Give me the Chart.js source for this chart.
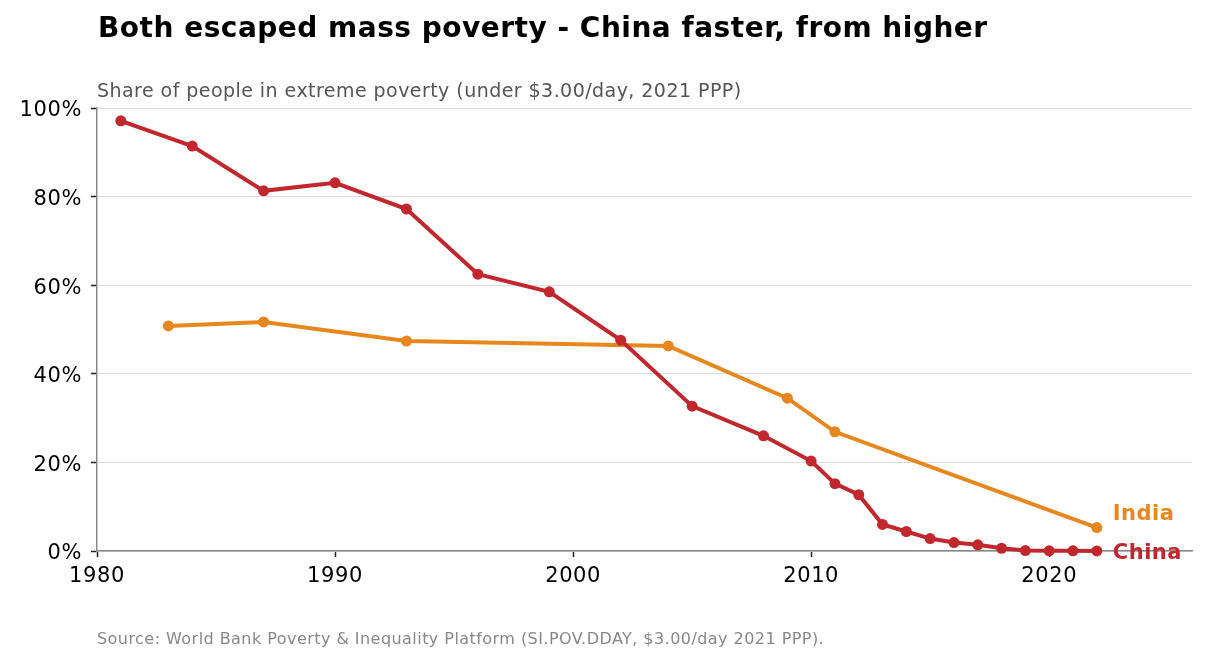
<!DOCTYPE html>
<html>
<head>
<meta charset="utf-8">
<script src="https://cdn.jsdelivr.net/npm/chart.js@4"></script>
<style>
  body{ margin:0; background:#fff; font-family:DejaVu Sans, sans-serif; }
  #wrap{ position:relative; width:1205px; height:664px; }
  #chart{ position:absolute; left:0; top:0; }
  .txt{ position:absolute; left:97px; white-space:nowrap; font-family:DejaVu Sans, sans-serif; }
  #title{ top:12px; left:98px; font-size:28px; line-height:32px; font-weight:bold; color:#000; letter-spacing:0.5px; }
  #subtitle{ top:79px; font-size:19px; line-height:22px; color:#555; letter-spacing:0.45px; }
  #source{ top:630px; font-size:16px; line-height:18px; color:#888; letter-spacing:0.45px; }
</style>
</head>
<body>
<div id="wrap">
  <canvas id="chart" width="1205" height="664"></canvas>
  <div class="txt" id="title">Both escaped mass poverty - China faster, from higher</div>
  <div class="txt" id="subtitle">Share of people in extreme poverty (under $3.00/day, 2021 PPP)</div>
  <div class="txt" id="source">Source: World Bank Poverty &amp; Inequality Platform (SI.POV.DDAY, $3.00/day 2021 PPP).</div>
</div>
<script>
/* China vs India extreme poverty share */
const chinaYears = [1981,1984,1987,1990,1993,1996,1999,2002,2005,2008,2010,2011,2012,2013,2014,2015,2016,2017,2018,2019,2020,2021,2022];
const chinaShare = [0.971,0.914,0.813,0.831,0.772,0.625,0.585,0.476,0.327,0.260,0.203,0.152,0.127,0.060,0.044,0.028,0.019,0.014,0.006,0.001,0.0005,0.0003,0.0002];
const indiaYears = [1983,1987,1993,2004,2009,2011,2022];
const indiaShare = [0.508,0.517,0.474,0.463,0.345,0.269,0.053];
const xTicks = [1980,1990,2000,2010,2020];
const yTicks = [0,0.2,0.4,0.6,0.8,1.0];

const RED = '#c1272d', ORANGE = '#e8871e';
const FONT = 'DejaVu Sans';
const pts = (xs, ys) => xs.map((x,i)=>({x, y:ys[i]}));

// matplotlib-style text runs a little wider than the browser's
const spacing = {
  id:'spacing',
  beforeDraw(chart){ chart.ctx.letterSpacing = '0.6px'; }
};

// end-of-line labels, placed off the last point of each series
const endLabels = {
  id:'endLabels',
  afterDatasetsDraw(chart){
    const {ctx, scales:{x, y}} = chart;
    const items = [
      {text:'India', color:ORANGE, yr:indiaYears.at(-1), v:indiaShare.at(-1), dy:-13},
      {text:'China', color:RED, yr:chinaYears.at(-1), v:chinaShare.at(-1), dy:3}
    ];
    ctx.save();
    ctx.font = 'bold 21px ' + FONT;
    ctx.letterSpacing = '0.5px';
    ctx.textBaseline = 'middle';
    items.forEach(it=>{
      ctx.fillStyle = it.color;
      ctx.fillText(it.text, x.getPixelForValue(it.yr)+16, y.getPixelForValue(it.v)+it.dy);
    });
    ctx.restore();
  }
};

new Chart(document.getElementById('chart'), {
  type:'line',
  data:{ datasets:[
    { label:'China', data:pts(chinaYears, chinaShare), borderColor:RED, backgroundColor:RED,
      borderWidth:4, pointRadius:5.5, pointBorderWidth:0, pointHoverRadius:5.5, clip:false },
    { label:'India', data:pts(indiaYears, indiaShare), borderColor:ORANGE, backgroundColor:ORANGE,
      borderWidth:4, pointRadius:5.5, pointBorderWidth:0, pointHoverRadius:5.5, clip:false }
  ]},
  options:{
    responsive:false, animation:false,
    layout:{ padding:{ left:0, top:108, right:13, bottom:0 } },
    plugins:{ legend:{display:false}, tooltip:{enabled:false} },
    scales:{
      x:{
        type:'linear', min:1980, max:2026,
        afterBuildTicks: s => { s.ticks = xTicks.map(v=>({value:v})); },
        afterFit: s => { s.height = 113; },
        grid:{ drawOnChartArea:false, tickColor:'#222', tickLength:6, tickWidth:1.5 },
        border:{ color:'#888', width:1.5 },
        ticks:{ color:'#000', font:{family:FONT, size:21}, padding:7, maxRotation:0,
          callback: v => String(v) }
      },
      y:{
        min:0, max:1,
        afterBuildTicks: s => { s.ticks = yTicks.map(v=>({value:v})); },
        afterFit: s => { s.width = 97; },
        grid:{ color:'#dddddd', lineWidth:1, tickColor:'#222', tickLength:6, tickWidth:1.5 },
        border:{ color:'#888', width:1.5 },
        ticks:{ color:'#000', font:{family:FONT, size:21}, padding:9, labelOffset:3,
          callback: v => Math.round(v*100)+'%' }
      }
    }
  },
  plugins:[spacing, endLabels]
});
</script>
</body>
</html>
